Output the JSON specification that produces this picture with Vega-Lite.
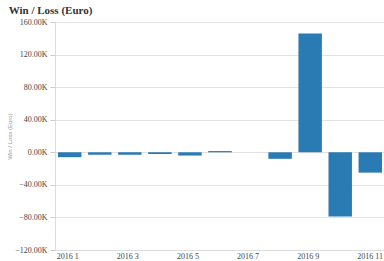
{
  "$schema": "https://vega.github.io/schema/vega-lite/v6.json",
  "autosize": {"type": "none"},
  "width": 330,
  "height": 228,
  "padding": {"left": 55, "top": 22, "right": 0, "bottom": 11},
  "background": "white",
  "title": {
    "text": "Win / Loss (Euro)",
    "anchor": "start",
    "frame": "bounds",
    "font": "Liberation Serif",
    "fontSize": 11,
    "fontWeight": "bold",
    "color": "#333333",
    "offset": 2,
    "dx": 2
  },
  "data": {
    "values": [
      {"month": "2016 1", "value": -6000},
      {"month": "2016 2", "value": -3000},
      {"month": "2016 3", "value": -3000},
      {"month": "2016 4", "value": -2000},
      {"month": "2016 5", "value": -4000},
      {"month": "2016 6", "value": 1500},
      {"month": "2016 7", "value": 0},
      {"month": "2016 8", "value": -8000},
      {"month": "2016 9", "value": 146000},
      {"month": "2016 10", "value": -79000},
      {"month": "2016 11", "value": -25000}
    ]
  },
  "mark": {"type": "bar", "color": "#2a7ab4"},
  "encoding": {
    "x": {
      "field": "month",
      "type": "nominal",
      "sort": null,
      "scale": {"paddingInner": 0.22, "paddingOuter": 0.1},
      "axis": {
        "title": null,
        "labelAngle": 0,
        "labelOverlap": false,
        "labelFont": "Liberation Serif",
        "labelFontSize": 8,
        "labelColor": "#444444",
        "labelAlign": "left",
        "labelPadding": 2,
        "labelOffset": -13,
        "labelExpr": "indexof(['2016 1','2016 3','2016 5','2016 7','2016 9','2016 11'], datum.label) >= 0 ? datum.label : ['', datum.label]",
        "ticks": false,
        "domain": true,
        "domainColor": "#dddddd",
        "grid": false
      }
    },
    "y": {
      "field": "value",
      "type": "quantitative",
      "scale": {"domain": [-120000, 160000], "nice": false},
      "axis": {
        "title": "Win / Loss (Euro)",
        "titleFont": "Liberation Sans",
        "titleFontSize": 6,
        "titleFontWeight": "normal",
        "titleColor": "#999999",
        "titlePadding": 2,
        "values": [-120000, -80000, -40000, 0, 40000, 80000, 120000, 160000],
        "labelExpr": "format(datum.value / 1000, '.2f') + 'K'",
        "labelFont": "Liberation Serif",
        "labelFontSize": 8,
        "labelColor": "#444444",
        "labelPadding": 3,
        "domain": false,
        "ticks": true,
        "tickSize": 5,
        "tickColor": "#cccccc",
        "gridColor": "#e0e0e0"
      }
    }
  }
}
